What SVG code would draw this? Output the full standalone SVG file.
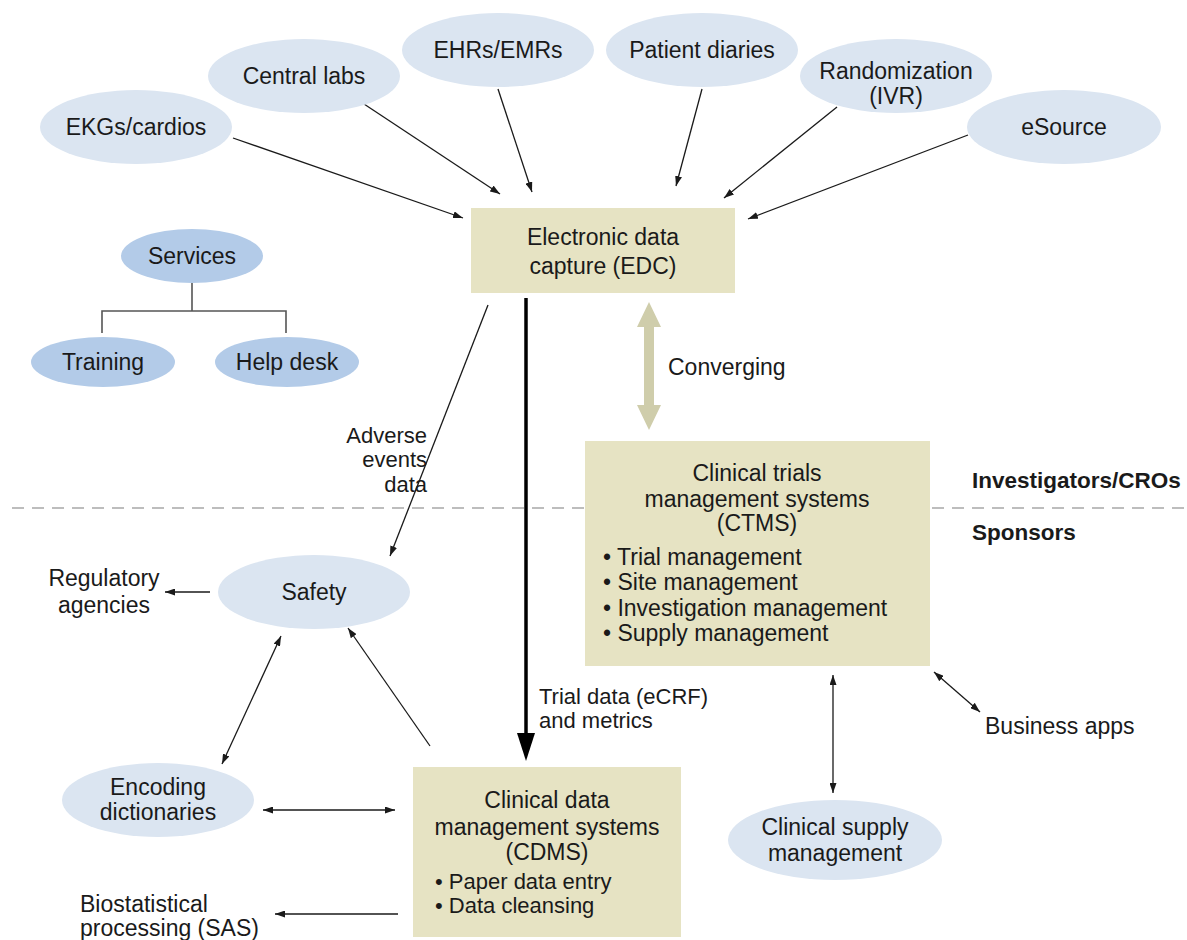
<svg xmlns="http://www.w3.org/2000/svg" width="1187" height="940" viewBox="0 0 1187 940">
<defs>
<style>
text{font-family:"Liberation Sans",Arial,sans-serif;font-size:23px;fill:#1a1a1a}
.c{text-anchor:middle}
.r{text-anchor:end}
.s{font-size:22px}
.b{font-weight:bold;font-size:22.5px}
.ell{fill:#dbe5f1}
.svc{fill:#b3cbe8}
.box{fill:#e6e3c3}
.ln{stroke:#1a1a1a;stroke-width:1.3;fill:none}
.tree{stroke:#555;stroke-width:1.6;fill:none}
</style>
<marker id="ah" viewBox="0 0 10 7" refX="10" refY="3.5" markerWidth="10" markerHeight="7" markerUnits="userSpaceOnUse" orient="auto-start-reverse">
<path d="M0,0 L10,3.5 L0,7 Z" fill="#1a1a1a"/>
</marker>
</defs>
<rect width="1187" height="940" fill="#fff"/>

<g id="separator">
<line x1="12" y1="508" x2="1187" y2="508" stroke="#a8a8a8" stroke-width="1.5" stroke-dasharray="12,8"/>
</g>

<g id="connectors">
<line class="ln" x1="233" y1="138" x2="463" y2="218" marker-end="url(#ah)"/>
<line class="ln" x1="364" y1="104" x2="500" y2="194" marker-end="url(#ah)"/>
<line class="ln" x1="498" y1="89" x2="532" y2="192" marker-end="url(#ah)"/>
<line class="ln" x1="702" y1="89" x2="676" y2="186" marker-end="url(#ah)"/>
<line class="ln" x1="837" y1="107" x2="724" y2="198" marker-end="url(#ah)"/>
<line class="ln" x1="968" y1="135" x2="748" y2="219" marker-end="url(#ah)"/>
<path class="tree" d="M192,283 V311 M102,333 V311 H286 V333"/>
<line class="ln" x1="488" y1="305" x2="390" y2="556" marker-end="url(#ah)"/>
<line x1="526" y1="298" x2="526" y2="736" stroke="#000" stroke-width="3.5"/>
<polygon points="517,733 535,733 526,761" fill="#000"/>
<polygon points="649,302 661,327 654,327 654,405 661,405 649,430 637,405 644,405 644,327 637,327" fill="#cfcdab"/>
<line class="ln" x1="210" y1="592" x2="165" y2="592" marker-end="url(#ah)"/>
<line class="ln" x1="281" y1="636" x2="222" y2="764" marker-start="url(#ah)" marker-end="url(#ah)"/>
<line class="ln" x1="430" y1="746" x2="348" y2="628" marker-end="url(#ah)"/>
<line class="ln" x1="263" y1="810" x2="395" y2="810" marker-start="url(#ah)" marker-end="url(#ah)"/>
<line class="ln" x1="398" y1="914" x2="275" y2="914" marker-end="url(#ah)"/>
<line class="ln" x1="833" y1="675" x2="833" y2="793" marker-start="url(#ah)" marker-end="url(#ah)"/>
<line class="ln" x1="934" y1="672" x2="980" y2="712" marker-start="url(#ah)" marker-end="url(#ah)"/>
</g>

<g id="ekg"><ellipse class="ell" cx="136" cy="127" rx="96" ry="37"/><text class="c" x="136" y="135">EKGs/cardios</text></g>
<g id="central-labs"><ellipse class="ell" cx="304" cy="76" rx="96" ry="37"/><text class="c" x="304" y="84">Central labs</text></g>
<g id="ehr"><ellipse class="ell" cx="498" cy="50" rx="96" ry="37"/><text class="c" x="498" y="58">EHRs/EMRs</text></g>
<g id="patient-diaries"><ellipse class="ell" cx="702" cy="50" rx="96" ry="37"/><text class="c" x="702" y="58">Patient diaries</text></g>
<g id="randomization"><ellipse class="ell" cx="896" cy="76" rx="96" ry="37"/><text class="c" x="896" y="79">Randomization</text><text class="c" x="896" y="104">(IVR)</text></g>
<g id="esource"><ellipse class="ell" cx="1064" cy="127" rx="97" ry="37"/><text class="c" x="1064" y="135">eSource</text></g>

<g id="edc"><rect class="box" x="471" y="208" width="264" height="85"/><text class="c" x="603" y="245">Electronic data</text><text class="c" x="603" y="274">capture (EDC)</text></g>

<g id="services"><ellipse class="svc" cx="192" cy="256" rx="71" ry="27"/><text class="c" x="192" y="264">Services</text></g>
<g id="training"><ellipse class="svc" cx="103" cy="362" rx="72" ry="25"/><text class="c" x="103" y="370">Training</text></g>
<g id="helpdesk"><ellipse class="svc" cx="287" cy="362" rx="72" ry="25"/><text class="c" x="287" y="370">Help desk</text></g>

<g id="adverse-label"><text class="r s" x="427" y="443">Adverse</text><text class="r s" x="427" y="467">events</text><text class="r s" x="427" y="492">data</text></g>
<g id="converging-label"><text x="668" y="375">Converging</text></g>

<g id="ctms"><rect class="box" x="585" y="441" width="345" height="225"/>
<text class="c" x="757" y="481">Clinical trials</text>
<text class="c" x="757" y="507">management systems</text>
<text class="c" x="757" y="531">(CTMS)</text>
<text x="603" y="565">• Trial management</text>
<text x="603" y="590">• Site management</text>
<text x="603" y="616">• Investigation management</text>
<text x="603" y="641">• Supply management</text>
</g>

<g id="zones"><text class="b" x="972" y="488">Investigators/CROs</text><text class="b" x="972" y="540">Sponsors</text></g>

<g id="regulatory"><text class="c" x="104" y="586">Regulatory</text><text class="c" x="104" y="613">agencies</text></g>
<g id="safety"><ellipse class="ell" cx="314" cy="592" rx="96" ry="37"/><text class="c" x="314" y="600">Safety</text></g>
<g id="trial-label"><text class="s" x="539" y="704">Trial data (eCRF)</text><text class="s" x="539" y="728">and metrics</text></g>
<g id="business-apps"><text x="985" y="734">Business apps</text></g>
<g id="encoding"><ellipse class="ell" cx="158" cy="800" rx="96" ry="37"/><text class="c" x="158" y="795">Encoding</text><text class="c" x="158" y="820">dictionaries</text></g>

<g id="cdms"><rect class="box" x="413" y="767" width="268" height="170"/>
<text class="c" x="547" y="808">Clinical data</text>
<text class="c" x="547" y="835">management systems</text>
<text class="c" x="547" y="860">(CDMS)</text>
<text class="s" x="435" y="889">• Paper data entry</text>
<text class="s" x="435" y="913">• Data cleansing</text>
</g>

<g id="clinical-supply"><ellipse class="ell" cx="835" cy="840" rx="107" ry="40"/><text class="c" x="835" y="835">Clinical supply</text><text class="c" x="835" y="861">management</text></g>
<g id="biostat"><text x="80" y="912">Biostatistical</text><text x="80" y="936">processing (SAS)</text></g>
</svg>
